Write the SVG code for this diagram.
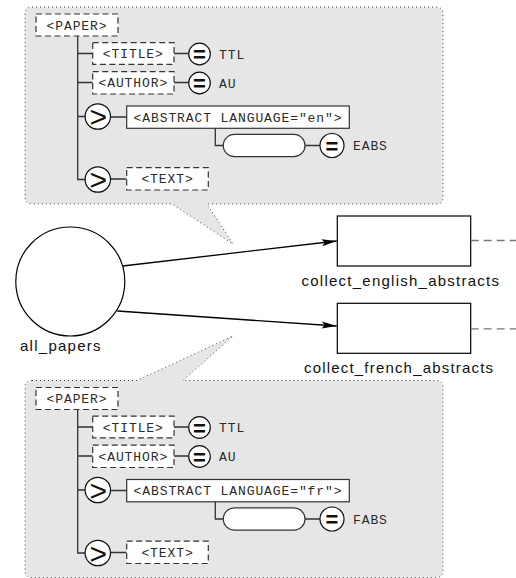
<svg xmlns="http://www.w3.org/2000/svg" width="516" height="578" viewBox="0 0 516 578">
  <style>
    .bubble { fill: #e6e6e6; stroke: #444; stroke-width: 1; stroke-dasharray: 1 3; }
    .elem { fill: #fff; stroke: #333; stroke-width: 1.2; stroke-dasharray: 6 3.5; }
    .solid { fill: #fff; stroke: #333; stroke-width: 1.2; }
    .wire { fill: none; stroke: #333; stroke-width: 1.3; }
    .op { fill: #fff; stroke: #111; stroke-width: 1.2; }
    .mono { font-family: "Liberation Mono", "DejaVu Sans Mono", monospace; font-size: 13px; letter-spacing: 0.9px; fill: #2a2a2a; }
    .mid { text-anchor: middle; }
    .sym { font-family: "Liberation Sans", Arial, sans-serif; fill: #111; text-anchor: middle; }
    .gt { font-size: 30px; }
    .eq { font-size: 22px; font-weight: bold; }
    .label { font-family: "Liberation Sans", Arial, sans-serif; font-size: 15px; fill: #111; }
    .box { fill: #fff; stroke: #000; stroke-width: 1.2; }
    .flow { fill: none; stroke: #000; stroke-width: 1.3; }
    .out { fill: none; stroke: #777; stroke-width: 1.3; stroke-dasharray: 8 5; }
  </style>
  <defs>
    <marker id="arrow" markerUnits="userSpaceOnUse" markerWidth="16" markerHeight="8" viewBox="0 -4 16 8" refX="15" refY="0" orient="auto">
      <path d="M0,-3.5 L15,0 L0,3.5 L3,0 Z" fill="#000"/>
    </marker>
  </defs>

  <!-- callout bubbles -->
  <g id="bubble-english">
    <path class="bubble" d="M32,7 H436 Q443,7 443,14 V197 Q443,204 436,204 H207 L233,244 L172,204 H32 Q25,204 25,197 V14 Q25,7 32,7 Z"/>
  </g>
  <g id="bubble-french">
    <path class="bubble" d="M32,380.5 H137 L233,336 L183,380.5 H436 Q443,380.5 443,387.5 V570.5 Q443,577.5 436,577.5 H32 Q25,577.5 25,570.5 V387.5 Q25,380.5 32,380.5 Z"/>
  </g>

  <!-- PAPER tree, english abstracts -->
  <g id="tree-english">
    <path class="wire" d="M77.7,36 V179.5 H85 M77.7,53.5 H92.7 M77.7,82.5 H92.7 M77.7,116.5 H85 M174,53.5 H188.7 M174,82.5 H188.7 M110.5,117 H126.7 M110.5,179 H126.7 M215.3,128.3 V145.5 H223.3 M305,145.5 H320"/>
    <g id="en-paper">
      <rect class="elem" x="36" y="14" width="82" height="22"/>
      <text class="mono mid" x="77" y="29.5">&lt;PAPER&gt;</text>
    </g>
    <g id="en-title">
      <rect class="elem" x="92.7" y="42.7" width="81.3" height="21.6"/>
      <text class="mono mid" x="133.3" y="58">&lt;TITLE&gt;</text>
    </g>
    <g id="en-title-eq">
      <circle class="op" cx="199.5" cy="54" r="10.8"/>
      <text class="sym eq" x="199.5" y="62">=</text>
      <text class="mono" x="219" y="58.5">TTL</text>
    </g>
    <g id="en-author">
      <rect class="elem" x="92.7" y="71.7" width="81.3" height="22.3"/>
      <text class="mono mid" x="133.3" y="87.3">&lt;AUTHOR&gt;</text>
    </g>
    <g id="en-author-eq">
      <circle class="op" cx="199.5" cy="83" r="10.8"/>
      <text class="sym eq" x="199.5" y="91">=</text>
      <text class="mono" x="219" y="87.5">AU</text>
    </g>
    <g id="en-abstract-gt">
      <circle class="op" cx="97.8" cy="116.5" r="12.7"/>
      <text class="sym gt" x="98.3" y="127.3">&gt;</text>
    </g>
    <g id="en-abstract">
      <rect class="solid" x="126.7" y="106" width="222.6" height="22.3"/>
      <text class="mono mid" x="238" y="121.6">&lt;ABSTRACT LANGUAGE="en"&gt;</text>
    </g>
    <g id="en-content">
      <rect class="solid" x="223.3" y="134.3" width="81.7" height="22.4" rx="11.2"/>
    </g>
    <g id="en-content-eq">
      <circle class="op" cx="332" cy="145.5" r="12"/>
      <text class="sym eq" x="332" y="153.5">=</text>
      <text class="mono" x="353" y="150">EABS</text>
    </g>
    <g id="en-text-gt">
      <circle class="op" cx="97.8" cy="179.5" r="12.7"/>
      <text class="sym gt" x="98.3" y="190.3">&gt;</text>
    </g>
    <g id="en-text">
      <rect class="elem" x="126.7" y="167.7" width="81.6" height="22.3"/>
      <text class="mono mid" x="167.5" y="183.3">&lt;TEXT&gt;</text>
    </g>
  </g>

  <!-- PAPER tree, french abstracts -->
  <g id="tree-french" transform="translate(0,373.5)">
    <path class="wire" d="M77.7,36 V179.5 H85 M77.7,53.5 H92.7 M77.7,82.5 H92.7 M77.7,116.5 H85 M174,53.5 H188.7 M174,82.5 H188.7 M110.5,117 H126.7 M110.5,179 H126.7 M215.3,128.3 V145.5 H223.3 M305,145.5 H320"/>
    <g id="fr-paper">
      <rect class="elem" x="36" y="14" width="82" height="22"/>
      <text class="mono mid" x="77" y="29.5">&lt;PAPER&gt;</text>
    </g>
    <g id="fr-title">
      <rect class="elem" x="92.7" y="42.7" width="81.3" height="21.6"/>
      <text class="mono mid" x="133.3" y="58">&lt;TITLE&gt;</text>
    </g>
    <g id="fr-title-eq">
      <circle class="op" cx="199.5" cy="54" r="10.8"/>
      <text class="sym eq" x="199.5" y="62">=</text>
      <text class="mono" x="219" y="58.5">TTL</text>
    </g>
    <g id="fr-author">
      <rect class="elem" x="92.7" y="71.7" width="81.3" height="22.3"/>
      <text class="mono mid" x="133.3" y="87.3">&lt;AUTHOR&gt;</text>
    </g>
    <g id="fr-author-eq">
      <circle class="op" cx="199.5" cy="83" r="10.8"/>
      <text class="sym eq" x="199.5" y="91">=</text>
      <text class="mono" x="219" y="87.5">AU</text>
    </g>
    <g id="fr-abstract-gt">
      <circle class="op" cx="97.8" cy="116.5" r="12.7"/>
      <text class="sym gt" x="98.3" y="127.3">&gt;</text>
    </g>
    <g id="fr-abstract">
      <rect class="solid" x="126.7" y="106" width="222.6" height="22.3"/>
      <text class="mono mid" x="238" y="121.6">&lt;ABSTRACT LANGUAGE="fr"&gt;</text>
    </g>
    <g id="fr-content">
      <rect class="solid" x="223.3" y="134.3" width="81.7" height="22.4" rx="11.2"/>
    </g>
    <g id="fr-content-eq">
      <circle class="op" cx="332" cy="145.5" r="12"/>
      <text class="sym eq" x="332" y="153.5">=</text>
      <text class="mono" x="353" y="150">FABS</text>
    </g>
    <g id="fr-text-gt">
      <circle class="op" cx="97.8" cy="179.5" r="12.7"/>
      <text class="sym gt" x="98.3" y="190.3">&gt;</text>
    </g>
    <g id="fr-text">
      <rect class="elem" x="126.7" y="167.7" width="81.6" height="22.3"/>
      <text class="mono mid" x="167.5" y="183.3">&lt;TEXT&gt;</text>
    </g>
  </g>

  <!-- flow nodes -->
  <g id="all_papers">
    <circle cx="70.3" cy="281.5" r="54.5" fill="#fff" stroke="#000" stroke-width="1.2"/>
    <text class="label" x="20" y="351" textLength="80.5" lengthAdjust="spacing">all_papers</text>
  </g>
  <g id="collect_english_abstracts">
    <rect class="box" x="337.3" y="216" width="133.4" height="50"/>
    <text class="label" x="301.5" y="286" textLength="197.5" lengthAdjust="spacing">collect_english_abstracts</text>
  </g>
  <g id="collect_french_abstracts">
    <rect class="box" x="337.3" y="303.3" width="133.4" height="50"/>
    <text class="label" x="304" y="372.5" textLength="189" lengthAdjust="spacing">collect_french_abstracts</text>
  </g>

  <!-- connectors -->
  <g id="connectors">
    <path class="flow" d="M122.7,266 L336.7,241" marker-end="url(#arrow)"/>
    <path class="flow" d="M117.3,311 L336.7,326" marker-end="url(#arrow)"/>
    <path class="out" d="M470.7,240.5 H516"/>
    <path class="out" d="M470.7,328.8 H516"/>
  </g>
</svg>
